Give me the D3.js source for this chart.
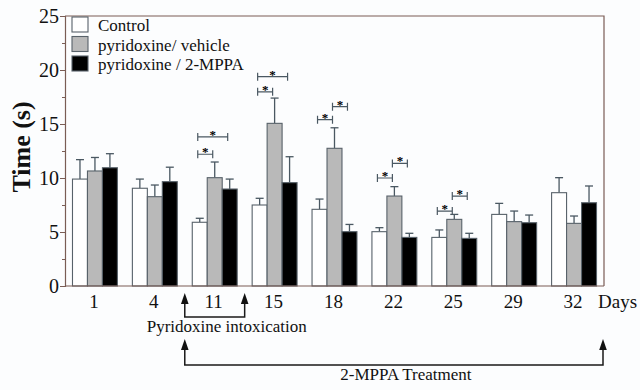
<!DOCTYPE html>
<html lang="en">
<head>
<meta charset="UTF-8">
<title>Time (s) by day</title>
<script src="https://d3js.org/d3.v7.min.js"></script>
<style>
  body { margin: 0; background: #fcfdfe; }
  svg { display: block; font-family: "Liberation Serif", "Times New Roman", serif; }
</style>
</head>
<body>
<script>
  // data
  const days = ["1", "4", "11", "15", "18", "22", "25", "29", "32"];
  const groups = ["Control", "pyridoxine/ vehicle", "pyridoxine / 2-MPPA"];
  const control = [9.9, 9.05, 5.9, 7.5, 7.1, 5.03, 4.5, 6.63, 8.64];
  const controlErr = [1.8, 0.85, 0.37, 0.62, 0.95, 0.37, 0.69, 1.02, 1.39];
  const vehicle = [10.65, 8.27, 10.03, 15.06, 12.75, 8.33, 6.17, 5.96, 5.8];
  const vehicleErr = [1.25, 1.08, 1.45, 2.34, 1.9, 0.87, 0.46, 0.98, 0.68];
  const mppa = [10.95, 9.66, 8.98, 9.57, 5.03, 4.5, 4.41, 5.86, 7.71];
  const mppaErr = [1.3, 1.34, 0.92, 2.4, 0.67, 0.38, 0.47, 0.71, 1.55];
  const yTicks = [0, 5, 10, 15, 20, 25];
  // significance brackets: day, from bar, to bar, height (s)
  const sigDay = ["11", "11", "15", "15", "18", "18", "22", "22", "25", "25"];
  const sigFrom = [0, 0, 0, 0, 0, 1, 0, 1, 0, 1];
  const sigTo = [1, 2, 1, 2, 1, 2, 1, 2, 1, 2];
  const sigY = [12.2, 13.8, 17.98, 19.38, 15.4, 16.6, 10.0, 11.35, 6.94, 8.33];

  const width = 640, height = 390;
  const mLeft = 65, mRight = 604, mTop = 16, mBottom = 286;
  const fills = ["#ffffff", "#b9b9b9", "#000000"];
  const axisColor = "#7a5d55";
  const barStroke = "#58626a";
  const errColor = "#4a5862";

  const svg = d3.select("body").append("svg")
      .attr("width", width)
      .attr("height", height);

  svg.append("rect").attr("width", width).attr("height", height).attr("fill", "#fcfdfe");

  const x = d3.scaleBand().domain(days).range([mLeft, mRight])
      .paddingInner(0.25).paddingOuter(0.125);
  const xs = d3.scaleBand().domain([0, 1, 2]).range([0, x.bandwidth()]);
  const y = d3.scaleLinear().domain([0, 25]).range([mBottom, mTop]);

  const series = [control, vehicle, mppa];
  const errs = [controlErr, vehicleErr, mppaErr];
  const rows = [];
  days.forEach((d, i) => {
    series.forEach((s, k) => rows.push({ day: d, k: k, v: s[i], e: errs[k][i] }));
  });

  // error bars (drawn first so bars cover the stem)
  const eb = svg.append("g").attr("stroke", errColor).attr("stroke-width", 1.3);
  rows.forEach(r => {
    const cx = x(r.day) + xs(r.k) + xs.bandwidth() / 2;
    eb.append("line").attr("x1", cx).attr("x2", cx).attr("y1", y(r.v)).attr("y2", y(r.v + r.e));
    eb.append("line").attr("x1", cx - 4).attr("x2", cx + 4).attr("y1", y(r.v + r.e)).attr("y2", y(r.v + r.e));
  });

  // bars
  svg.append("g").selectAll("rect").data(rows).join("rect")
      .attr("x", d => x(d.day) + xs(d.k))
      .attr("y", d => y(d.v))
      .attr("width", xs.bandwidth())
      .attr("height", d => y(0) - y(d.v))
      .attr("fill", d => fills[d.k])
      .attr("stroke", barStroke)
      .attr("stroke-width", 1.1);

  // frame: top and right border
  svg.append("path")
      .attr("d", `M${mLeft},${mTop}H${mRight}V${mBottom}`)
      .attr("fill", "none").attr("stroke", axisColor).attr("stroke-width", 1.2);

  // y axis
  const yAxis = svg.append("g").attr("transform", `translate(${mLeft},0)`)
      .call(d3.axisLeft(y).tickValues(d3.range(0, 25.1, 2.5)).tickSize(3).tickFormat(""));
  yAxis.selectAll(".tick line").attr("stroke", axisColor)
      .attr("x2", d => yTicks.includes(d) ? -5 : -3);
  yAxis.select(".domain").attr("stroke", axisColor).attr("stroke-width", 1.2);
  svg.append("g").selectAll("text").data(yTicks).join("text")
      .attr("x", 59).attr("y", d => y(d)).attr("dy", "0.35em")
      .attr("text-anchor", "end").attr("font-size", 20).attr("fill", "#111")
      .text(d => d);

  // x axis line + labels
  svg.append("line").attr("x1", mLeft).attr("x2", mRight).attr("y1", mBottom).attr("y2", mBottom)
      .attr("stroke", axisColor).attr("stroke-width", 1.2);
  svg.append("g").selectAll("text").data(days).join("text")
      .attr("x", d => x(d) + x.bandwidth() / 2 - 1)
      .attr("y", 308)
      .attr("text-anchor", "middle").attr("font-size", 19).attr("fill", "#111")
      .text(d => d);
  svg.append("text").attr("x", 598).attr("y", 308).attr("font-size", 19).attr("fill", "#111").text("Days");

  // y title
  svg.append("text")
      .attr("transform", `translate(30,${(mTop + mBottom) / 2 - 4}) rotate(-90)`)
      .attr("text-anchor", "middle").attr("font-size", 26).attr("font-weight", "bold")
      .attr("fill", "#111").text("Time (s)");

  // significance brackets
  const sg = svg.append("g");
  sigDay.forEach((d, i) => {
    const x1 = x(d) + xs(sigFrom[i]) + xs.bandwidth() / 2 - 2;
    const x2 = x(d) + xs(sigTo[i]) + xs.bandwidth() / 2 - 2;
    const yy = y(sigY[i]);
    sg.append("path")
        .attr("d", `M${x1},${yy - 4}V${yy + 4}M${x1},${yy}H${x2}M${x2},${yy - 4}V${yy + 4}`)
        .attr("fill", "none").attr("stroke", errColor).attr("stroke-width", 1.2);
    sg.append("text").attr("x", (x1 + x2) / 2).attr("y", yy + 2)
        .attr("text-anchor", "middle").attr("font-size", 13).attr("font-weight", "bold")
        .attr("fill", "#000").text("*");
  });

  // legend
  const lg = svg.append("g");
  groups.forEach((g, i) => {
    lg.append("rect").attr("x", 72).attr("y", 17 + i * 19.5).attr("width", 16).attr("height", 15)
        .attr("fill", fills[i]).attr("stroke", barStroke).attr("stroke-width", 1.1);
    lg.append("text").attr("x", 98).attr("y", 31 + i * 19.5).attr("font-size", 17)
        .attr("fill", "#111").text(g);
  });

  // treatment arrows
  const gap = x.step() - x.bandwidth();
  const ax1 = x("11") - gap / 2;
  const ax2 = x("15") - gap / 2;
  const ax3 = x("32") + x.bandwidth() + gap / 2 - 1;
  const ag = svg.append("g");
  function arrow(xa, xb, tipY, baseY, label, labelY) {
    ag.append("path")
        .attr("d", `M${xa},${tipY + 8}V${baseY}H${xb}V${tipY + 8}`)
        .attr("fill", "none").attr("stroke", "#1a1a1a").attr("stroke-width", 1.5);
    [xa, xb].forEach(xx => {
      ag.append("path")
          .attr("d", `M${xx},${tipY}L${xx - 3.8},${tipY + 11}L${xx + 3.8},${tipY + 11}Z`)
          .attr("fill", "#111");
    });
    ag.append("text").attr("x", (xa + xb) / 2 + 12).attr("y", labelY)
        .attr("text-anchor", "middle").attr("font-size", 17).attr("fill", "#111").text(label);
  }
  arrow(ax1, ax2, 293, 317, "Pyridoxine intoxication", 332);
  arrow(ax1, ax3, 339, 365, "2-MPPA Treatment", 380);
</script>
</body>
</html>
